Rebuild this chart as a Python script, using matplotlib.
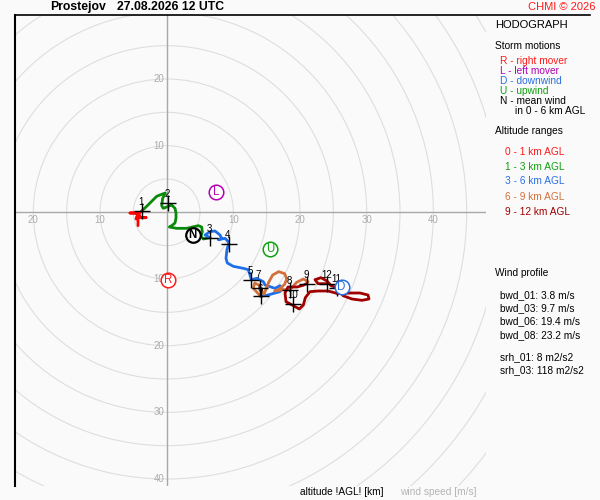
import matplotlib
matplotlib.use("Agg")
import matplotlib.pyplot as plt
from matplotlib.patches import Circle
from matplotlib.lines import Line2D

plt.rcParams['font.family'] = ['Liberation Sans', 'DejaVu Sans']

# ---------------- data (wind components u, v in m/s) ----------------
title_place = "Prostejov"
title_time = "27.08.2026 12 UTC"

# 0 - 1 km AGL
u_0_1 = [-4.3, -4.3, -4.5, -5.5, -4.2, -4.6, -4.3, -4.0, -3.1, -3.9, -4.2, -3.75]
v_0_1 = [-2.0, -0.8, -0.1, -0.1, -0.1, -1.0, -0.4, -0.8, -0.8, -0.8, -0.2, 0.2]
# 1 - 3 km AGL
u_1_3 = [-3.75, -3.0, -2.3, -1.5, -0.75, -0.2, -0.6, -0.75, -0.5, 0.25, 0.75, 1.25,
         1.4, 1.4, 1.25, 0.75, 0.4, 1.5, 3.0, 4.75, 5.25, 5.35, 5.15, 5.5, 6.0, 6.5]
v_1_3 = [0.2, 0.9, 1.6, 2.4, 2.7, 2.9, 2.1, 1.0, 0.6, 0.9, 1.1, 0.6,
         -0.1, -0.85, -1.6, -2.0, -2.2, -2.4, -2.4, -2.0, -2.2, -2.9, -3.6, -4.0, -3.9, -3.8]
# 3 - 6 km AGL
u_3_6 = [6.5, 5.75, 6.5, 7.25, 8.0, 8.25, 7.75, 8.75, 9.25, 9.3, 9.05, 8.9, 9.1, 10.0,
         11.5, 12.25, 12.5, 12.7, 13.5, 14.5, 14.75, 16.25, 17.0, 17.3, 17.0, 16.25, 15.2, 14.1]
v_3_6 = [-3.8, -3.4, -2.9, -2.8, -3.4, -3.9, -4.1, -3.9, -4.4, -4.7, -5.6, -6.9, -7.6, -8.1,
         -8.4, -8.6, -9.4, -10.1, -9.9, -10.4, -10.9, -11.4, -11.0, -11.4, -11.9, -12.1, -12.4, -12.6]
# 6 - 9 km AGL
u_6_9 = [14.1, 13.0, 13.2, 14.0, 14.0, 14.6, 15.3, 15.9, 16.8, 17.7, 18.0, 17.7, 16.9,
         16.2, 17.5, 18.5, 19.5, 20.5, 21.2, 21.0]
v_6_9 = [-12.6, -11.4, -10.6, -11.0, -11.4, -12.3, -10.5, -9.4, -8.9, -9.2, -10.0, -10.8, -11.5,
         -11.8, -11.6, -11.6, -10.5, -10.0, -10.4, -10.7]
# 9 - 12 km AGL
u_9_12 = [21.0, 20.45, 19.55, 18.2, 17.75, 17.9, 19.0, 19.9, 20.5, 20.8, 21.5, 22.7, 24.2, 25.7,
          27.5, 29.0, 30.2, 30.35, 29.3, 27.8, 26.45, 25.55, 24.65, 24.05, 23.15, 22.25, 22.7, 24.1]
v_9_12 = [-10.7, -10.95, -11.2, -11.2, -12.1, -13.4, -14.0, -14.5, -13.9, -12.8, -11.9, -11.8, -11.8, -12.2,
          -12.1, -12.1, -12.4, -13.0, -13.2, -13.0, -12.5, -11.3, -11.0, -10.3, -9.8, -10.1, -10.7, -10.7]

# altitude markers (km)
alt_km = [1, 2, 3, 4, 5, 6, 7, 8, 9, 10, 11, 12]
alt_u = [-3.75, 0.25, 6.5, 9.3, 12.7, 14.1, 14.0, 18.5, 21.0, 19.0, 25.55, 24.1]
alt_v = [0.2, 1.4, -3.8, -4.7, -10.1, -12.6, -11.4, -11.6, -10.7, -13.8, -11.3, -10.7]

# storm motions
storm_letters = ["R", "L", "D", "U", "N"]
storm_u = [0.2, 7.4, 26.25, 15.5, 3.9]
storm_v = [-10.1, 3.1, -11.2, -5.5, -3.4]

ring_radii = list(range(5, 65, 5))
x_tick_vals = [-20, -10, 10, 20, 30, 40]
y_tick_vals = [20, 10, -10, -20, -30, -40]

storm_legend = ["R - right mover", "L - left mover", "D - downwind", "U - upwind", "N - mean wind"]
alt_legend = ["0 - 1 km AGL", "1 - 3 km AGL", "3 - 6 km AGL", "6 - 9 km AGL", "9 - 12 km AGL"]
profile_lines = ["bwd_01: 3.8 m/s", "bwd_03: 9.7 m/s", "bwd_06: 19.4 m/s", "bwd_08: 23.2 m/s"]
srh_lines = ["srh_01: 8 m2/s2", "srh_03: 118 m2/s2"]

# ---------------- styles ----------------
BG = '#fafafa'
layer_colors = ['#ff0000', '#0a8a0a', '#1f6fe8', '#d2703c', '#a00000']
storm_colors = {'R': '#ff1a1a', 'L': '#b400b4', 'D': '#2a6fe0', 'U': '#10a010', 'N': '#000000'}
legend_storm_colors = ['#ff1a1a', '#b400b4', '#2a6fe0', '#10a010', '#000000']
legend_alt_colors = ['#ff1a1a', '#10a010', '#2a6fe0', '#d2703c', '#a00000']
# label offsets (points) for altitude numbers
label_dx = [-0.5] * 12
label_dy = [6.5] * 12
label_dy[6] = 9.5
label_dx[6] = -1.0
label_dy[5] = 5.5

W, H = 600, 500
fig = plt.figure(figsize=(6, 5), dpi=100, facecolor=BG)


def fx(px):
    return px / W


def fy(py):
    return 1 - py / H


ax = fig.add_axes([fx(15), fy(486), 471 / W, 471 / H])
ax.set_facecolor(BG)
ax.set_xlim(-22.75, 47.9)
ax.set_ylim(-41.05, 29.6)
ax.set_xticks([])
ax.set_yticks([])
for s in ax.spines.values():
    s.set_visible(False)

for r in ring_radii:
    ax.add_patch(Circle((0, 0), r, fill=False, ec='#dedede', lw=0.8, zorder=1))
ax.axhline(0, color='#a8a8a8', lw=1.0, zorder=1.5)
ax.axvline(0, color='#a8a8a8', lw=1.0, zorder=1.5)

for xv in x_tick_vals:
    ax.text(xv, -0.45, str(abs(xv)), ha='center', va='top', fontsize=7, color='#ababab', zorder=2)
for yv in y_tick_vals:
    ax.text(-0.35, yv, str(abs(yv)), ha='right', va='center', fontsize=7, color='#ababab', zorder=2)

layers = [(u_0_1, v_0_1), (u_1_3, v_1_3), (u_3_6, v_3_6), (u_6_9, v_6_9), (u_9_12, v_9_12)]
for (uu, vv), c in zip(layers, layer_colors):
    ax.plot(uu, vv, color=c, lw=2.0, solid_joinstyle='round', solid_capstyle='round', zorder=3)

ax.plot(alt_u, alt_v, '+', ms=11, mew=1.0, color='black', zorder=4)
for k, uu, vv, dx, dy in zip(alt_km, alt_u, alt_v, label_dx, label_dy):
    ax.annotate(str(k), (uu, vv), xytext=(dx, dy), textcoords='offset points',
                ha='center', va='center', fontsize=7, color='black', zorder=5)

for letter, uu, vv in zip(storm_letters, storm_u, storm_v):
    c = storm_colors[letter]
    mew = 1.6 if letter == 'N' else 1.1
    ax.plot([uu], [vv], 'o', ms=10.5, mfc='white', mec=c, mew=mew, zorder=6)
    ax.text(uu, vv - 0.05, letter, ha='center', va='center', fontsize=8.3, color=c,
            fontweight='bold' if letter == 'N' else 'normal', zorder=7)

# frame lines
fig.add_artist(Line2D([fx(15), fx(590)], [fy(15), fy(15)], color='black', lw=1.2))
fig.add_artist(Line2D([fx(15), fx(15)], [fy(15), fy(486)], color='black', lw=1.5))

# title
fig.text(fx(50), fy(7), title_place, fontsize=8.8, fontweight='bold', va='center', ha='left')
fig.text(fx(117), fy(7), title_time, fontsize=8.8, fontweight='bold', va='center', ha='left')
fig.text(fx(595), fy(7), "CHMI \u00a9 2026", fontsize=8, color='#ff1a1a', va='center', ha='right')

# right panel
fig.text(fx(495), fy(25), "HODOGRAPH", fontsize=8, va='center', ha='left')
fig.text(fx(495), fy(46), "Storm motions", fontsize=7.3, va='center', ha='left')
ys = [61, 71, 81, 91, 101]
for t, c, y in zip(storm_legend, legend_storm_colors, ys):
    fig.text(fx(500.5), fy(y), t, fontsize=7.3, color=c, va='center', ha='left')
fig.text(fx(515), fy(111), "in 0 - 6 km AGL", fontsize=7.3, va='center', ha='left')
fig.text(fx(495), fy(131), "Altitude ranges", fontsize=7.3, va='center', ha='left')
ys = [152, 166.5, 181.5, 197, 212]
for t, c, y in zip(alt_legend, legend_alt_colors, ys):
    fig.text(fx(505), fy(y), t, fontsize=7.3, color=c, va='center', ha='left')

fig.text(fx(495), fy(273), "Wind profile", fontsize=7.3, va='center', ha='left')
ys = [295, 308, 321.5, 335]
for t, y in zip(profile_lines, ys):
    fig.text(fx(500.5), fy(y), t, fontsize=7.3, va='center', ha='left')
ys = [357, 370]
for t, y in zip(srh_lines, ys):
    fig.text(fx(500.5), fy(y), t, fontsize=7.3, va='center', ha='left')

fig.text(fx(300.5), fy(492), "altitude !AGL! [km]", fontsize=7.3, va='center', ha='left')
fig.text(fx(400), fy(492), "wind speed [m/s]", fontsize=7.3, color='#b4b4b4', va='center', ha='left')

fig.savefig("out.png", dpi=100, facecolor=BG)
